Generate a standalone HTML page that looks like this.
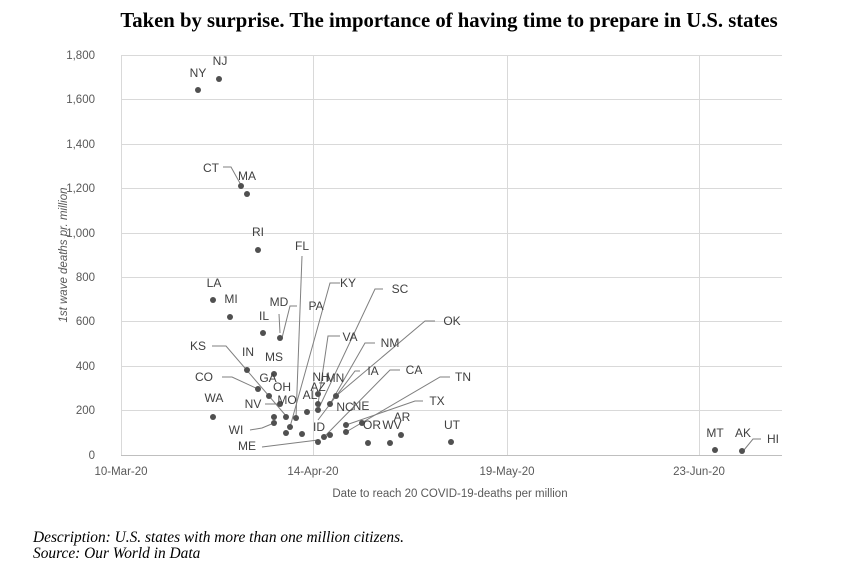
<!DOCTYPE html>
<html><head><meta charset="utf-8"><style>
body{margin:0;background:#fff;}
svg{display:block;}
.t{font-family:"Liberation Sans",sans-serif;font-size:12px;fill:#404040;}
.tk{font-family:"Liberation Sans",sans-serif;font-size:11.5px;fill:#595959;}
.l{stroke:#7f7f7f;stroke-width:1;fill:none;}
</style></head><body>
<svg width="850" height="564" xmlns="http://www.w3.org/2000/svg">
<text x="449" y="27" text-anchor="middle" font-family="Liberation Serif,serif" font-weight="bold" font-size="20.7" fill="#000">Taken by surprise. The importance of having time to prepare in U.S. states</text>
<g stroke="#d9d9d9" stroke-width="1">
<line x1="121" y1="55.5" x2="782" y2="55.5"/><line x1="121" y1="99.5" x2="782" y2="99.5"/>
<line x1="121" y1="144.5" x2="782" y2="144.5"/><line x1="121" y1="188.5" x2="782" y2="188.5"/>
<line x1="121" y1="233.5" x2="782" y2="233.5"/><line x1="121" y1="277.5" x2="782" y2="277.5"/>
<line x1="121" y1="321.5" x2="782" y2="321.5"/><line x1="121" y1="366.5" x2="782" y2="366.5"/>
<line x1="121" y1="410.5" x2="782" y2="410.5"/>
<line x1="121.5" y1="55" x2="121.5" y2="455"/><line x1="313.5" y1="55" x2="313.5" y2="455"/>
<line x1="507.5" y1="55" x2="507.5" y2="455"/><line x1="699.5" y1="55" x2="699.5" y2="455"/>
</g>
<line x1="121" y1="455.5" x2="782" y2="455.5" stroke="#bfbfbf"/>
<g class="tk" text-anchor="end">
<text x="95" y="59">1,800</text><text x="95" y="103">1,600</text><text x="95" y="148">1,400</text>
<text x="95" y="192">1,200</text><text x="95" y="237">1,000</text><text x="95" y="281">800</text>
<text x="95" y="325">600</text><text x="95" y="370">400</text><text x="95" y="414">200</text><text x="95" y="459">0</text>
</g>
<g class="tk" text-anchor="middle">
<text x="121" y="475">10-Mar-20</text><text x="313" y="475">14-Apr-20</text>
<text x="507" y="475">19-May-20</text><text x="699" y="475">23-Jun-20</text>
<text x="450" y="497">Date to reach 20 COVID-19-deaths per million</text>
</g>
<text transform="translate(67,255) rotate(-90)" text-anchor="middle" class="tk" font-style="italic">1st wave deaths pr. million</text>
<g class="l">
<polyline points="223,167 231,167 241,185"/>
<polyline points="279,314 280,333"/>
<polyline points="297,306 290,306 282,338"/>
<polyline points="302,256 296,418"/>
<polyline points="340,283 330,283 290,427"/>
<polyline points="212,346 226,346 287,417"/>
<polyline points="222,377 232,377 258,389"/>
<polyline points="265,404 276,404 280,404"/>
<polyline points="250,430 262,428 274,423"/>
<polyline points="262,447 318,440"/>
<polyline points="340,336 328,336 318,404"/>
<polyline points="383,289 375,289 318,410"/>
<polyline points="375,343 365,343 330,404"/>
<polyline points="435,321 425,321 336,396"/>
<polyline points="360,371 355,371 318,420"/>
<polyline points="400,370 390,370 324,437"/>
<polyline points="450,377 440,377 346,432"/>
<polyline points="423,401 415,401 346,425"/>
<polyline points="761,439 753,439 744,450"/>
</g>
<g fill="#505050">
<circle cx="198" cy="90" r="3"/><circle cx="219" cy="79" r="3"/><circle cx="241" cy="186" r="3"/><circle cx="247" cy="194" r="3"/>
<circle cx="258" cy="250" r="3"/><circle cx="213" cy="300" r="3"/><circle cx="230" cy="317" r="3"/><circle cx="263" cy="333" r="3"/>
<circle cx="280" cy="338" r="3"/><circle cx="247" cy="370" r="3"/><circle cx="274" cy="374" r="3"/><circle cx="269" cy="396" r="3"/>
<circle cx="258" cy="389" r="3"/><circle cx="280" cy="404" r="3"/><circle cx="213" cy="417" r="3"/><circle cx="274" cy="417" r="3"/>
<circle cx="274" cy="423" r="3"/><circle cx="318" cy="442" r="3"/><circle cx="286" cy="417" r="3"/><circle cx="296" cy="418" r="3"/>
<circle cx="290" cy="427" r="3"/><circle cx="286" cy="433" r="3"/><circle cx="302" cy="434" r="3"/><circle cx="307" cy="412" r="3"/>
<circle cx="318" cy="394" r="3"/><circle cx="318" cy="404" r="3"/><circle cx="318" cy="410" r="3"/><circle cx="330" cy="404" r="3"/>
<circle cx="336" cy="396" r="3"/><circle cx="324" cy="437" r="3"/><circle cx="330" cy="435" r="3"/><circle cx="346" cy="425" r="3"/>
<circle cx="346" cy="432" r="3"/><circle cx="362" cy="423" r="3"/><circle cx="368" cy="443" r="3"/><circle cx="390" cy="443" r="3"/>
<circle cx="401" cy="435" r="3"/><circle cx="451" cy="442" r="3"/><circle cx="715" cy="450" r="3"/><circle cx="742" cy="451" r="3"/>
</g>
<g class="t" text-anchor="middle">
<text x="198" y="77">NY</text><text x="220" y="65">NJ</text><text x="211" y="172">CT</text><text x="247" y="180">MA</text>
<text x="258" y="236">RI</text><text x="302" y="250">FL</text><text x="214" y="287">LA</text><text x="231" y="303">MI</text>
<text x="279" y="306">MD</text><text x="316" y="310">PA</text><text x="348" y="287">KY</text><text x="400" y="293">SC</text>
<text x="264" y="320">IL</text><text x="350" y="341">VA</text><text x="390" y="347">NM</text><text x="452" y="325">OK</text>
<text x="198" y="350">KS</text><text x="248" y="356">IN</text><text x="274" y="361">MS</text><text x="204" y="381">CO</text>
<text x="268" y="382">GA</text><text x="282" y="391">OH</text><text x="373" y="375">IA</text><text x="414" y="374">CA</text>
<text x="463" y="381">TN</text><text x="321" y="381">NH</text><text x="335" y="382">MN</text><text x="318" y="391">AZ</text>
<text x="310" y="399">AL</text><text x="214" y="402">WA</text><text x="253" y="408">NV</text><text x="287" y="404">MO</text>
<text x="437" y="405">TX</text><text x="345" y="411">NC</text><text x="361" y="410">NE</text><text x="402" y="421">AR</text>
<text x="319" y="431">ID</text><text x="372" y="429">OR</text><text x="392" y="429">WV</text><text x="452" y="429">UT</text>
<text x="236" y="434">WI</text><text x="247" y="450">ME</text>
<text x="715" y="437">MT</text><text x="743" y="437">AK</text><text x="773" y="443">HI</text>
</g>
<g font-family="Liberation Serif,serif" font-style="italic" font-size="15.4" fill="#000">
<text x="33" y="542">Description: U.S. states with more than one million citizens.</text>
<text x="33" y="558">Source: Our World in Data</text>
</g>
</svg>
</body></html>
